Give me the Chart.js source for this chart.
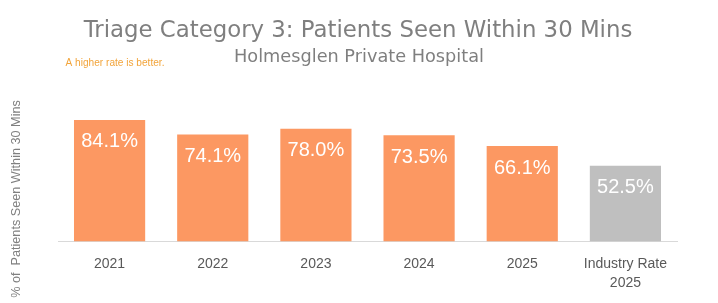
<!DOCTYPE html>
<html>
<head>
<meta charset="utf-8">
<script src="https://cdn.jsdelivr.net/npm/chart.js@4.4.1/dist/chart.umd.min.js"></script>
<style>
  html, body { margin: 0; padding: 0; background: #fff; }
  #wrap { width: 718px; height: 303px; }
</style>
</head>
<body>
<div id="wrap"><canvas id="chart" width="718" height="303"></canvas></div>
<script>
// datos
const categorias = ['2021', '2022', '2023', '2024', '2025', ['Industry Rate', '2025']];
const valores = [84.1, 74.1, 78.0, 73.5, 66.1, 52.5];
const colores = ['#FC9862', '#FC9862', '#FC9862', '#FC9862', '#FC9862', '#BFBFBF'];

const tituloTexto = 'Triage Category 3: Patients Seen Within 30 Mins';
const subtituloTexto = 'Holmesglen Private Hospital';
const notaTexto = 'A higher rate is better.';
const ejeYTexto = '% of  Patients Seen Within 30 Mins';

// ajusta el tamaño de fuente para que el texto ocupe cierto ancho
function fitFont(ctx, text, family, targetWidth) {
    ctx.font = `20px ${family}`;
    const w = ctx.measureText(text).width;
    return 20 * targetWidth / w;
}

const textos = {
    id: 'textos',
    afterDraw(chart) {
        const ctx = chart.ctx;
        ctx.save();
        ctx.textAlign = 'center';
        ctx.textBaseline = 'middle';

        // titulo
        let fam = '"DejaVu Sans ExtraLight", "DejaVu Sans"';
        let size = fitFont(ctx, tituloTexto, fam, 549);
        ctx.font = `${size}px ${fam}`;
        ctx.fillStyle = '#7F7F7F';
        ctx.fillText(tituloTexto, 358, 31);

        // subtitulo
        size = fitFont(ctx, subtituloTexto, fam, 250);
        ctx.font = `${size}px ${fam}`;
        ctx.fillText(subtituloTexto, 359, 57);

        // nota
        fam = '"Liberation Sans"';
        size = fitFont(ctx, notaTexto, fam, 99);
        ctx.font = `${size}px ${fam}`;
        ctx.fillStyle = '#F2A43A';
        ctx.fillText(notaTexto, 115, 63);

        // titulo del eje y
        size = fitFont(ctx, ejeYTexto, fam, 198);
        ctx.font = `${size}px ${fam}`;
        ctx.fillStyle = '#808080';
        ctx.translate(17, 199);
        ctx.rotate(-Math.PI / 2);
        ctx.fillText(ejeYTexto, 0, 0);
        ctx.restore();

        // etiquetas dentro de las barras
        ctx.save();
        ctx.textAlign = 'center';
        ctx.textBaseline = 'middle';
        ctx.fillStyle = '#FFFFFF';
        ctx.font = '20px "Liberation Sans"';
        chart.getDatasetMeta(0).data.forEach((bar, i) => {
            ctx.fillText(valores[i].toFixed(1) + '%', bar.x, bar.y + 22);
        });
        ctx.restore();
    }
};

new Chart(document.getElementById('chart'), {
    type: 'bar',
    data: {
        labels: categorias,
        datasets: [{
            data: valores,
            backgroundColor: colores,
            barPercentage: 0.69,
            categoryPercentage: 1.0
        }]
    },
    options: {
        responsive: false,
        animation: false,
        layout: { padding: { left: 58, right: 41, top: 97, bottom: 0 } },
        plugins: {
            legend: { display: false },
            tooltip: { enabled: false }
        },
        scales: {
            y: {
                display: false,
                min: 0,
                max: 100
            },
            x: {
                grid: { display: false, drawTicks: false },
                border: { display: true, color: '#D9D9D9', width: 1 },
                ticks: {
                    color: '#595959',
                    padding: 13,
                    maxRotation: 0,
                    font: { family: '"Liberation Sans"', size: 14, lineHeight: 1.35 }
                },
                afterFit(scale) { scale.height = 61.5; }
            }
        }
    },
    plugins: [textos]
});
</script>
</body>
</html>
